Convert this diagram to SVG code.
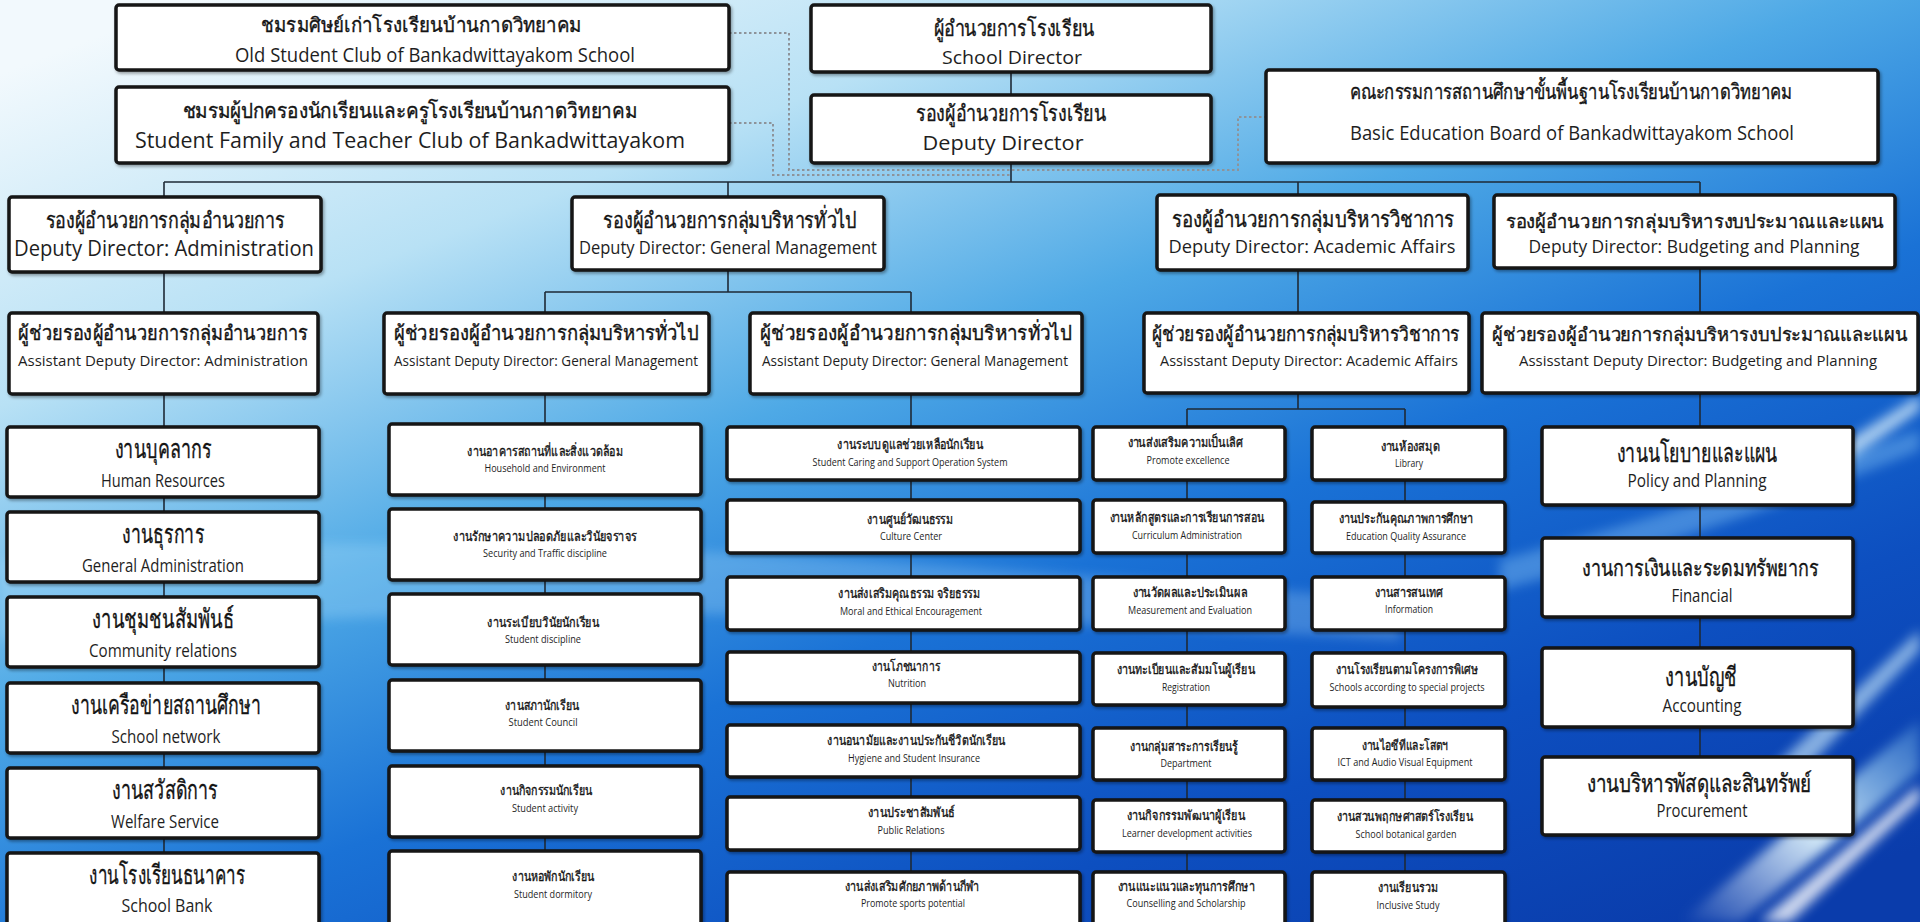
<svg xmlns="http://www.w3.org/2000/svg" width="1920" height="922" viewBox="0 0 1920 922">
<defs>
<linearGradient id="bg" x1="0.1" y1="0" x2="0.9" y2="1">
<stop offset="0" stop-color="#f2f9fd"/>
<stop offset="0.22" stop-color="#b8e1f5"/>
<stop offset="0.42" stop-color="#4ea9e6"/>
<stop offset="0.6" stop-color="#1a72d6"/>
<stop offset="0.8" stop-color="#0d4fc0"/>
<stop offset="1" stop-color="#0a3cab"/>
</linearGradient>
<radialGradient id="glow" cx="0.5" cy="0" r="0.5">
<stop offset="0" stop-color="#ffffff" stop-opacity="0.95"/>
<stop offset="0.6" stop-color="#ffffff" stop-opacity="0.5"/>
<stop offset="1" stop-color="#ffffff" stop-opacity="0"/>
</radialGradient>
<linearGradient id="streak" x1="0" y1="1" x2="1" y2="0">
<stop offset="0" stop-color="#ffffff" stop-opacity="0"/>
<stop offset="0.5" stop-color="#e8fbff" stop-opacity="0.9"/>
<stop offset="1" stop-color="#9fe6ff" stop-opacity="0.2"/>
</linearGradient>
<filter id="blur" x="-20%" y="-20%" width="140%" height="140%"><feGaussianBlur stdDeviation="6"/></filter>
<filter id="sh" x="-5%" y="-10%" width="110%" height="130%"><feDropShadow dx="1.5" dy="2" stdDeviation="1.5" flood-color="#000" flood-opacity="0.35"/></filter>
<style>
.box{fill:#fff;stroke:#161616;stroke-width:3.5;filter:url(#sh)}
.th{font-family:"Noto Sans","DejaVu Sans",sans-serif;fill:#141414;stroke:#141414;stroke-width:0.35;text-anchor:middle}
.en{font-family:"Open Sans","Noto Sans",sans-serif;fill:#1e1e1e;text-anchor:middle}
.ln{stroke:#1e2a36;stroke-width:1.6;fill:none}
.dot{stroke:#8d939a;stroke-width:2;stroke-dasharray:2.5 2.5;fill:none}
</style>
</defs>
<g id="background">
<rect x="0" y="0" width="1920" height="922" fill="url(#bg)"/>
<ellipse cx="760" cy="0" rx="1250" ry="300" fill="url(#glow)"/>
<path d="M0 560 C400 520 900 560 1400 600 L1400 640 C900 610 400 600 0 640 Z" fill="#bfe9ff" opacity="0.25" filter="url(#blur)"/>
<path d="M1680 922 L1740 922 L1920 770 L1920 720 Z" fill="url(#streak)" filter="url(#blur)"/>
<path d="M1760 922 L1790 922 L1920 800 L1920 785 Z" fill="#ffffff" opacity="0.8" filter="url(#blur)"/>
<path d="M1760 780 L1800 775 L1920 650 L1920 630 Z" fill="#d8f6ff" opacity="0.6" filter="url(#blur)"/>
<path d="M1800 470 L1850 460 L1920 410 L1920 395 Z" fill="#e8fbff" opacity="0.7" filter="url(#blur)"/>
<path d="M1500 560 C1650 520 1800 470 1920 430 L1920 450 C1800 500 1650 550 1500 590 Z" fill="#9fdcff" opacity="0.35" filter="url(#blur)"/>
</g>
<g id="connectors">
<path class="dot" d="M729 33 H789 V170 H1238 V117 H1266"/>
<path class="dot" d="M729 123 H773 V175 H1011"/>
<path class="ln" d="M1011 72 V95 M1011 163 V182 M164 182 H1700 M164 182 V197 M728 182 V197 M1298 182 V195 M1700 182 V195"/>
<path class="ln" d="M164 272 V313 M164 394 V922"/>
<path class="ln" d="M728 270 V292 M545 292 H911 M545 292 V313 M911 292 V313 M545 394 V922 M911 394 V922"/>
<path class="ln" d="M1298 270 V313 M1298 393 V409 M1187 409 H1405 M1187 409 V922 M1405 409 V922"/>
<path class="ln" d="M1700 268 V313 M1700 393 V757"/>
</g>
<g id="n-old-student"><rect class="box" x="116" y="5" width="613" height="65" rx="3"/>
<text class="th" x="421" y="32" font-size="20" textLength="320" lengthAdjust="spacingAndGlyphs">ชมรมศิษย์เก่าโรงเรียนบ้านกาดวิทยาคม</text>
<text class="en" x="435" y="62" font-size="20" textLength="400" lengthAdjust="spacingAndGlyphs">Old Student Club of Bankadwittayakom  School</text></g>
<g id="n-family"><rect class="box" x="116" y="87" width="613" height="76" rx="3"/>
<text class="th" x="410" y="118" font-size="21" textLength="455" lengthAdjust="spacingAndGlyphs">ชมรมผู้ปกครองนักเรียนและครูโรงเรียนบ้านกาดวิทยาคม</text>
<text class="en" x="410" y="148" font-size="22" textLength="550" lengthAdjust="spacingAndGlyphs">Student  Family and  Teacher Club of Bankadwittayakom</text></g>
<g id="n-director"><rect class="box" x="811" y="5" width="400" height="67" rx="3"/>
<text class="th" x="1014" y="36" font-size="22" textLength="161" lengthAdjust="spacingAndGlyphs">ผู้อำนวยการโรงเรียน</text>
<text class="en" x="1012" y="64" font-size="19" textLength="140" lengthAdjust="spacingAndGlyphs">School Director</text></g>
<g id="n-deputy"><rect class="box" x="811" y="95" width="400" height="68" rx="3"/>
<text class="th" x="1011" y="121" font-size="22" textLength="190" lengthAdjust="spacingAndGlyphs">รองผู้อำนวยการโรงเรียน</text>
<text class="en" x="1003" y="150" font-size="20" textLength="161" lengthAdjust="spacingAndGlyphs">Deputy Director</text></g>
<g id="n-board"><rect class="box" x="1266" y="70" width="612" height="93" rx="3"/>
<text class="th" x="1571" y="99" font-size="21" textLength="443" lengthAdjust="spacingAndGlyphs">คณะกรรมการสถานศึกษาขั้นพื้นฐานโรงเรียนบ้านกาดวิทยาคม</text>
<text class="en" x="1572" y="140" font-size="20" textLength="444" lengthAdjust="spacingAndGlyphs">Basic Education Board of Bankadwittayakom  School</text></g>
<g id="n-dd-admin"><rect class="box" x="9" y="197" width="312" height="75" rx="3"/>
<text class="th" x="165" y="228" font-size="22" textLength="239" lengthAdjust="spacingAndGlyphs">รองผู้อำนวยการกลุ่มอำนวยการ</text>
<text class="en" x="164" y="256" font-size="21" textLength="300" lengthAdjust="spacingAndGlyphs">Deputy Director:  Administration</text></g>
<g id="n-dd-gm"><rect class="box" x="572" y="197" width="312" height="73" rx="3"/>
<text class="th" x="730" y="228" font-size="22" textLength="254" lengthAdjust="spacingAndGlyphs">รองผู้อำนวยการกลุ่มบริหารทั่วไป</text>
<text class="en" x="728" y="254" font-size="18" textLength="298" lengthAdjust="spacingAndGlyphs">Deputy Director: General Management</text></g>
<g id="n-dd-acad"><rect class="box" x="1157" y="195" width="311" height="75" rx="3"/>
<text class="th" x="1313" y="227" font-size="22" textLength="283" lengthAdjust="spacingAndGlyphs">รองผู้อำนวยการกลุ่มบริหารวิชาการ</text>
<text class="en" x="1312" y="253" font-size="19" textLength="287" lengthAdjust="spacingAndGlyphs">Deputy Director: Academic Affairs</text></g>
<g id="n-dd-budget"><rect class="box" x="1494" y="195" width="401" height="73" rx="3"/>
<text class="th" x="1695" y="228" font-size="19" textLength="378" lengthAdjust="spacingAndGlyphs">รองผู้อำนวยการกลุ่มบริหารงบประมาณและแผน</text>
<text class="en" x="1694" y="253" font-size="19" textLength="331" lengthAdjust="spacingAndGlyphs">Deputy Director: Budgeting and Planning</text></g>
<g id="n-ad-admin"><rect class="box" x="9" y="313" width="309" height="81" rx="3"/>
<text class="th" x="163" y="340" font-size="20" textLength="290" lengthAdjust="spacingAndGlyphs">ผู้ช่วยรองผู้อำนวยการกลุ่มอำนวยการ</text>
<text class="en" x="163" y="366" font-size="15" textLength="290" lengthAdjust="spacingAndGlyphs">Assistant Deputy Director:  Administration</text></g>
<g id="n-ad-gm1"><rect class="box" x="384" y="313" width="325" height="81" rx="3"/>
<text class="th" x="546" y="340" font-size="20" textLength="305" lengthAdjust="spacingAndGlyphs">ผู้ช่วยรองผู้อำนวยการกลุ่มบริหารทั่วไป</text>
<text class="en" x="546" y="366" font-size="15" textLength="304" lengthAdjust="spacingAndGlyphs">Assistant Deputy Director: General Management</text></g>
<g id="n-ad-gm2"><rect class="box" x="750" y="313" width="332" height="81" rx="3"/>
<text class="th" x="916" y="340" font-size="20" textLength="312" lengthAdjust="spacingAndGlyphs">ผู้ช่วยรองผู้อำนวยการกลุ่มบริหารทั่วไป</text>
<text class="en" x="915" y="366" font-size="15" textLength="306" lengthAdjust="spacingAndGlyphs">Assistant Deputy Director: General Management</text></g>
<g id="n-ad-acad"><rect class="box" x="1144" y="313" width="325" height="80" rx="3"/>
<text class="th" x="1306" y="341" font-size="20" textLength="308" lengthAdjust="spacingAndGlyphs">ผู้ช่วยรองผู้อำนวยการกลุ่มบริหารวิชาการ</text>
<text class="en" x="1309" y="366" font-size="15" textLength="298" lengthAdjust="spacingAndGlyphs">Assisstant  Deputy Director: Academic Affairs</text></g>
<g id="n-ad-budget"><rect class="box" x="1482" y="313" width="436" height="80" rx="3"/>
<text class="th" x="1700" y="341" font-size="18.5" textLength="416" lengthAdjust="spacingAndGlyphs">ผู้ช่วยรองผู้อำนวยการกลุ่มบริหารงบประมาณและแผน</text>
<text class="en" x="1698" y="366" font-size="15" textLength="358" lengthAdjust="spacingAndGlyphs">Assisstant Deputy Director: Budgeting and Planning</text></g>

<g id="n-admin-1"><rect class="box" x="7" y="427" width="312" height="70" rx="3"/>
<text class="th" x="163" y="458" font-size="26" textLength="97" lengthAdjust="spacingAndGlyphs">งานบุคลากร</text>
<text class="en" x="163" y="487" font-size="19" textLength="124" lengthAdjust="spacingAndGlyphs">Human Resources</text></g>
<g id="n-admin-2"><rect class="box" x="7" y="512" width="312" height="70" rx="3"/>
<text class="th" x="163" y="543" font-size="26" textLength="82" lengthAdjust="spacingAndGlyphs">งานธุรการ</text>
<text class="en" x="163" y="572" font-size="19" textLength="162" lengthAdjust="spacingAndGlyphs">General Administration</text></g>
<g id="n-admin-3"><rect class="box" x="7" y="597" width="312" height="70" rx="3"/>
<text class="th" x="163" y="628" font-size="26" textLength="142" lengthAdjust="spacingAndGlyphs">งานชุมชนสัมพันธ์</text>
<text class="en" x="163" y="657" font-size="19" textLength="148" lengthAdjust="spacingAndGlyphs">Community relations</text></g>
<g id="n-admin-4"><rect class="box" x="7" y="683" width="312" height="70" rx="3"/>
<text class="th" x="166" y="714" font-size="26" textLength="190" lengthAdjust="spacingAndGlyphs">งานเครือข่ายสถานศึกษา</text>
<text class="en" x="166" y="743" font-size="19" textLength="109" lengthAdjust="spacingAndGlyphs">School network</text></g>
<g id="n-admin-5"><rect class="box" x="7" y="768" width="312" height="70" rx="3"/>
<text class="th" x="165" y="799" font-size="26" textLength="106" lengthAdjust="spacingAndGlyphs">งานสวัสดิการ</text>
<text class="en" x="165" y="828" font-size="19" textLength="108" lengthAdjust="spacingAndGlyphs">Welfare Service</text></g>
<g id="n-admin-6"><rect class="box" x="7" y="853" width="312" height="75" rx="3"/>
<text class="th" x="167" y="884" font-size="26" textLength="156" lengthAdjust="spacingAndGlyphs">งานโรงเรียนธนาคาร</text>
<text class="en" x="167" y="912" font-size="19" textLength="91" lengthAdjust="spacingAndGlyphs">School  Bank</text></g>

<g id="n-gm1-1"><rect class="box" x="389" y="424" width="312" height="71" rx="3"/>
<text class="th" x="545" y="456" font-size="13.5" textLength="156" lengthAdjust="spacingAndGlyphs">งานอาคารสถานที่และสิ่งแวดล้อม</text>
<text class="en" x="545" y="472" font-size="10.5" textLength="121" lengthAdjust="spacingAndGlyphs">Household and Environment</text></g>
<g id="n-gm1-2"><rect class="box" x="389" y="509" width="312" height="71" rx="3"/>
<text class="th" x="545" y="541" font-size="13.5" textLength="184" lengthAdjust="spacingAndGlyphs">งานรักษาความปลอดภัยและวินัยจราจร</text>
<text class="en" x="545" y="557" font-size="10.5" textLength="124" lengthAdjust="spacingAndGlyphs">Security and Traffic discipline</text></g>
<g id="n-gm1-3"><rect class="box" x="389" y="594" width="312" height="71" rx="3"/>
<text class="th" x="543" y="627" font-size="13.5" textLength="112" lengthAdjust="spacingAndGlyphs">งานระเบียบวินัยนักเรียน</text>
<text class="en" x="543" y="643" font-size="10.5" textLength="76" lengthAdjust="spacingAndGlyphs">Student discipline</text></g>
<g id="n-gm1-4"><rect class="box" x="389" y="680" width="312" height="71" rx="3"/>
<text class="th" x="542" y="710" font-size="13.5" textLength="74" lengthAdjust="spacingAndGlyphs">งานสภานักเรียน</text>
<text class="en" x="543" y="726" font-size="10.5" textLength="69" lengthAdjust="spacingAndGlyphs">Student Council</text></g>
<g id="n-gm1-5"><rect class="box" x="389" y="766" width="312" height="71" rx="3"/>
<text class="th" x="546" y="795" font-size="13.5" textLength="92" lengthAdjust="spacingAndGlyphs">งานกิจกรรมนักเรียน</text>
<text class="en" x="545" y="812" font-size="10.5" textLength="66" lengthAdjust="spacingAndGlyphs">Student activity</text></g>
<g id="n-gm1-6"><rect class="box" x="389" y="851" width="312" height="75" rx="3"/>
<text class="th" x="553" y="881" font-size="13.5" textLength="82" lengthAdjust="spacingAndGlyphs">งานหอพักนักเรียน</text>
<text class="en" x="553" y="898" font-size="10.5" textLength="78" lengthAdjust="spacingAndGlyphs">Student dormitory</text></g>

<g id="n-gm2-1"><rect class="box" x="727" y="427" width="353" height="53" rx="3"/>
<text class="th" x="910" y="449" font-size="13.5" textLength="146" lengthAdjust="spacingAndGlyphs">งานระบบดูแลช่วยเหลือนักเรียน</text>
<text class="en" x="910" y="466" font-size="10.5" textLength="195" lengthAdjust="spacingAndGlyphs">Student Caring and Support Operation System</text></g>
<g id="n-gm2-2"><rect class="box" x="727" y="500" width="353" height="53" rx="3"/>
<text class="th" x="910" y="524" font-size="13.5" textLength="86" lengthAdjust="spacingAndGlyphs">งานศูนย์วัฒนธรรม</text>
<text class="en" x="911" y="540" font-size="10.5" textLength="62" lengthAdjust="spacingAndGlyphs">Culture Center</text></g>
<g id="n-gm2-3"><rect class="box" x="727" y="577" width="353" height="53" rx="3"/>
<text class="th" x="909" y="598" font-size="13.5" textLength="142" lengthAdjust="spacingAndGlyphs">งานส่งเสริมคุณธรรม จริยธรรม</text>
<text class="en" x="911" y="615" font-size="10.5" textLength="142" lengthAdjust="spacingAndGlyphs">Moral and Ethical Encouragement</text></g>
<g id="n-gm2-4"><rect class="box" x="727" y="652" width="353" height="51" rx="3"/>
<text class="th" x="906" y="671" font-size="13.5" textLength="68" lengthAdjust="spacingAndGlyphs">งานโภชนาการ</text>
<text class="en" x="907" y="687" font-size="10.5" textLength="38" lengthAdjust="spacingAndGlyphs">Nutrition</text></g>
<g id="n-gm2-5"><rect class="box" x="727" y="725" width="353" height="52" rx="3"/>
<text class="th" x="916" y="745" font-size="13.5" textLength="178" lengthAdjust="spacingAndGlyphs">งานอนามัยและงานประกันชีวิตนักเรียน</text>
<text class="en" x="914" y="762" font-size="10.5" textLength="132" lengthAdjust="spacingAndGlyphs">Hygiene and Student Insurance</text></g>
<g id="n-gm2-6"><rect class="box" x="727" y="797" width="353" height="53" rx="3"/>
<text class="th" x="911" y="817" font-size="13.5" textLength="87" lengthAdjust="spacingAndGlyphs">งานประชาสัมพันธ์</text>
<text class="en" x="911" y="834" font-size="10.5" textLength="67" lengthAdjust="spacingAndGlyphs">Public Relations</text></g>
<g id="n-gm2-7"><rect class="box" x="727" y="872" width="353" height="55" rx="3"/>
<text class="th" x="912" y="891" font-size="13.5" textLength="135" lengthAdjust="spacingAndGlyphs">งานส่งเสริมศักยภาพด้านกีฬา</text>
<text class="en" x="913" y="907" font-size="10.5" textLength="104" lengthAdjust="spacingAndGlyphs">Promote sports potential</text></g>

<g id="n-acl-1"><rect class="box" x="1093" y="427" width="192" height="53" rx="3"/>
<text class="th" x="1185" y="447" font-size="13" textLength="115" lengthAdjust="spacingAndGlyphs">งานส่งเสริมความเป็นเลิศ</text>
<text class="en" x="1188" y="464" font-size="10.5" textLength="83" lengthAdjust="spacingAndGlyphs">Promote excellence</text></g>
<g id="n-acl-2"><rect class="box" x="1093" y="500" width="192" height="53" rx="3"/>
<text class="th" x="1187" y="522" font-size="13" textLength="155" lengthAdjust="spacingAndGlyphs">งานหลักสูตรและการเรียนการสอน</text>
<text class="en" x="1187" y="539" font-size="10.5" textLength="110" lengthAdjust="spacingAndGlyphs">Curriculum Administration</text></g>
<g id="n-acl-3"><rect class="box" x="1093" y="577" width="192" height="53" rx="3"/>
<text class="th" x="1190" y="597" font-size="13" textLength="115" lengthAdjust="spacingAndGlyphs">งานวัดผลและประเมินผล</text>
<text class="en" x="1190" y="614" font-size="10.5" textLength="124" lengthAdjust="spacingAndGlyphs">Measurement and Evaluation</text></g>
<g id="n-acl-4"><rect class="box" x="1093" y="653" width="192" height="52" rx="3"/>
<text class="th" x="1186" y="674" font-size="13" textLength="138" lengthAdjust="spacingAndGlyphs">งานทะเบียนและสัมมโนผู้เรียน</text>
<text class="en" x="1186" y="691" font-size="10.5" textLength="48" lengthAdjust="spacingAndGlyphs">Registration</text></g>
<g id="n-acl-5"><rect class="box" x="1093" y="728" width="192" height="52" rx="3"/>
<text class="th" x="1184" y="751" font-size="13" textLength="108" lengthAdjust="spacingAndGlyphs">งานกลุ่มสาระการเรียนรู้</text>
<text class="en" x="1186" y="767" font-size="10.5" textLength="51" lengthAdjust="spacingAndGlyphs">Department</text></g>
<g id="n-acl-6"><rect class="box" x="1093" y="800" width="192" height="52" rx="3"/>
<text class="th" x="1186" y="820" font-size="13" textLength="118" lengthAdjust="spacingAndGlyphs">งานกิจกรรมพัฒนาผู้เรียน</text>
<text class="en" x="1187" y="837" font-size="10.5" textLength="130" lengthAdjust="spacingAndGlyphs">Learner development activities</text></g>
<g id="n-acl-7"><rect class="box" x="1093" y="872" width="192" height="55" rx="3"/>
<text class="th" x="1186" y="891" font-size="13" textLength="137" lengthAdjust="spacingAndGlyphs">งานแนะแนวและทุนการศึกษา</text>
<text class="en" x="1186" y="907" font-size="10.5" textLength="119" lengthAdjust="spacingAndGlyphs">Counselling and Scholarship</text></g>

<g id="n-acr-1"><rect class="box" x="1312" y="427" width="193" height="53" rx="3"/>
<text class="th" x="1410" y="451" font-size="13" textLength="59" lengthAdjust="spacingAndGlyphs">งานห้องสมุด</text>
<text class="en" x="1409" y="467" font-size="10.5" textLength="28" lengthAdjust="spacingAndGlyphs">Library</text></g>
<g id="n-acr-2"><rect class="box" x="1312" y="502" width="193" height="51" rx="3"/>
<text class="th" x="1406" y="523" font-size="13" textLength="134" lengthAdjust="spacingAndGlyphs">งานประกันคุณภาพการศึกษา</text>
<text class="en" x="1406" y="540" font-size="10.5" textLength="120" lengthAdjust="spacingAndGlyphs">Education Quality Assurance</text></g>
<g id="n-acr-3"><rect class="box" x="1312" y="577" width="193" height="53" rx="3"/>
<text class="th" x="1409" y="597" font-size="13" textLength="68" lengthAdjust="spacingAndGlyphs">งานสารสนเทศ</text>
<text class="en" x="1409" y="613" font-size="10.5" textLength="48" lengthAdjust="spacingAndGlyphs">Information</text></g>
<g id="n-acr-4"><rect class="box" x="1312" y="653" width="193" height="54" rx="3"/>
<text class="th" x="1407" y="674" font-size="13" textLength="142" lengthAdjust="spacingAndGlyphs">งานโรงเรียนตามโครงการพิเศษ</text>
<text class="en" x="1407" y="691" font-size="10.5" textLength="155" lengthAdjust="spacingAndGlyphs">Schools according to special projects</text></g>
<g id="n-acr-5"><rect class="box" x="1312" y="728" width="193" height="52" rx="3"/>
<text class="th" x="1405" y="750" font-size="13" textLength="86" lengthAdjust="spacingAndGlyphs">งานไอซีทีและโสตฯ</text>
<text class="en" x="1405" y="766" font-size="10.5" textLength="135" lengthAdjust="spacingAndGlyphs">ICT and Audio Visual Equipment</text></g>
<g id="n-acr-6"><rect class="box" x="1312" y="800" width="193" height="52" rx="3"/>
<text class="th" x="1405" y="821" font-size="13" textLength="136" lengthAdjust="spacingAndGlyphs">งานสวนพฤกษศาสตร์โรงเรียน</text>
<text class="en" x="1406" y="838" font-size="10.5" textLength="101" lengthAdjust="spacingAndGlyphs">School botanical garden</text></g>
<g id="n-acr-7"><rect class="box" x="1312" y="872" width="193" height="55" rx="3"/>
<text class="th" x="1408" y="892" font-size="13" textLength="60" lengthAdjust="spacingAndGlyphs">งานเรียนรวม</text>
<text class="en" x="1408" y="909" font-size="10.5" textLength="63" lengthAdjust="spacingAndGlyphs">Inclusive Study</text></g>

<g id="n-bud-1"><rect class="box" x="1542" y="427" width="311" height="78" rx="3"/>
<text class="th" x="1697" y="462" font-size="26" textLength="161" lengthAdjust="spacingAndGlyphs">งานนโยบายและแผน</text>
<text class="en" x="1697" y="487" font-size="18" textLength="139" lengthAdjust="spacingAndGlyphs">Policy and Planning</text></g>
<g id="n-bud-2"><rect class="box" x="1542" y="538" width="311" height="79" rx="3"/>
<text class="th" x="1700" y="576" font-size="23" textLength="236" lengthAdjust="spacingAndGlyphs">งานการเงินและระดมทรัพยากร</text>
<text class="en" x="1702" y="602" font-size="18" textLength="61" lengthAdjust="spacingAndGlyphs">Financial</text></g>
<g id="n-bud-3"><rect class="box" x="1542" y="648" width="311" height="79" rx="3"/>
<text class="th" x="1701" y="686" font-size="26" textLength="72" lengthAdjust="spacingAndGlyphs">งานบัญชี</text>
<text class="en" x="1702" y="712" font-size="18" textLength="79" lengthAdjust="spacingAndGlyphs">Accounting</text></g>
<g id="n-bud-4"><rect class="box" x="1542" y="757" width="311" height="78" rx="3"/>
<text class="th" x="1699" y="792" font-size="25" textLength="225" lengthAdjust="spacingAndGlyphs">งานบริหารพัสดุและสินทรัพย์</text>
<text class="en" x="1702" y="817" font-size="18" textLength="91" lengthAdjust="spacingAndGlyphs">Procurement</text></g>
</svg>
